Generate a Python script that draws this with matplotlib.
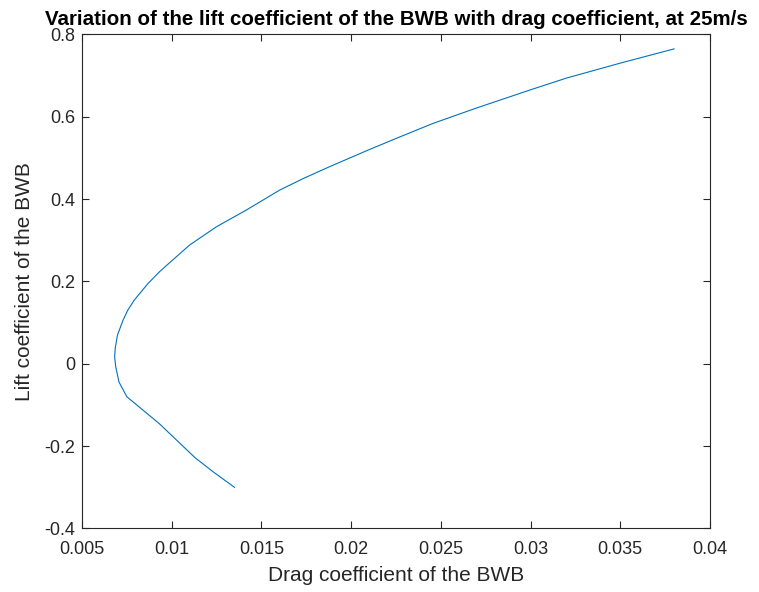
import matplotlib
matplotlib.use("Agg")
import matplotlib.pyplot as plt

plt.rcParams['font.family'] = ['Liberation Sans', 'DejaVu Sans']

# Drag polar of the BWB at 25 m/s
cd = [0.0135, 0.0123, 0.0113, 0.0093, 0.0075, 0.00706, 0.00688, 0.00682,
      0.00686, 0.00698, 0.00729, 0.00755, 0.0079, 0.0083, 0.00868, 0.00933,
      0.0100, 0.0110, 0.0125, 0.01416, 0.01602, 0.01733, 0.01881, 0.02094,
      0.02265, 0.02457, 0.0269, 0.02996, 0.0320, 0.03497, 0.0380]
cl = [-0.30, -0.262, -0.228, -0.145, -0.08, -0.044, -0.007, 0.017,
      0.040, 0.070, 0.106, 0.130, 0.154, 0.175, 0.195, 0.224,
      0.250, 0.2885, 0.333, 0.3735, 0.422, 0.450, 0.479, 0.519,
      0.550, 0.584, 0.620, 0.665, 0.694, 0.730, 0.765]

xticks = [0.005, 0.01, 0.015, 0.02, 0.025, 0.03, 0.035, 0.04]
xticklabels = ['0.005', '0.01', '0.015', '0.02', '0.025', '0.03', '0.035', '0.04']
yticks = [-0.4, -0.2, 0, 0.2, 0.4, 0.6, 0.8]
yticklabels = ['-0.4', '-0.2', '0', '0.2', '0.4', '0.6', '0.8']

fig = plt.figure(figsize=(7.59, 5.92), dpi=100)
ax = fig.add_axes([0.108, 0.1073, 0.8274, 0.8345])

ax.plot(cd, cl, color='#0072BD', linewidth=0.8)

ax.set_xlim(0.005, 0.04)
ax.set_ylim(-0.4, 0.8)
ax.set_xticks(xticks)
ax.set_xticklabels(xticklabels)
ax.set_yticks(yticks)
ax.set_yticklabels(yticklabels)

ax.tick_params(direction='in', top=True, right=True, length=5, width=0.8,
               colors='#262626', labelsize=13)
ax.tick_params(axis='x', pad=9)
ax.tick_params(axis='y', pad=5)
for s in ax.spines.values():
    s.set_color('#262626')
    s.set_linewidth(0.8)

ax.set_xlabel('Drag coefficient of the BWB', fontsize=15, color='#262626', labelpad=6)
ax.set_ylabel('Lift coefficient of the BWB', fontsize=15, color='#262626', labelpad=7)
ax.set_title('Variation of the lift coefficient of the BWB with drag coefficient, at 25m/s',
             fontsize=14.8, fontweight='bold', pad=7)

fig.savefig('out.png', dpi=100)
